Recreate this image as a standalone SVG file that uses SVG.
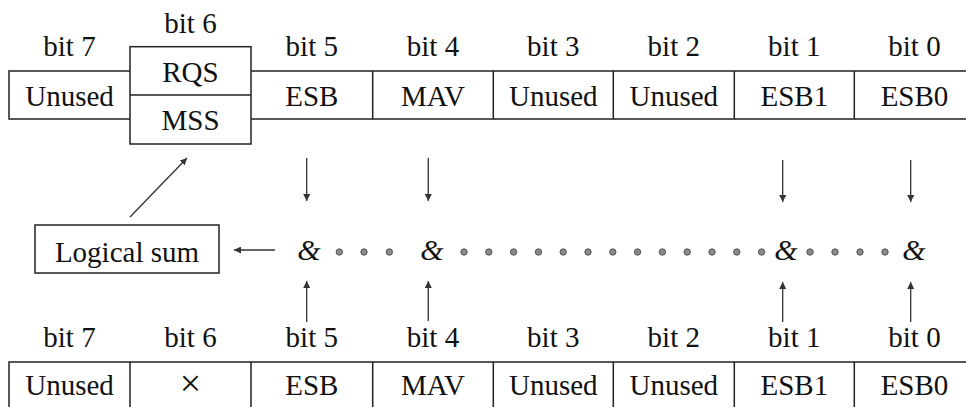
<svg xmlns="http://www.w3.org/2000/svg" width="966" height="407" viewBox="0 0 966 407">
  <defs>
    <style>
      .ln { stroke: #222; stroke-width: 1.5; fill: none; }
      .box { stroke: #222; stroke-width: 1.5; fill: #fff; }
      .cell, .lbl { font-family: "Liberation Serif", "Times New Roman", serif; font-size: 29px; fill: #111; text-anchor: middle; }
      .times { font-size: 38px; }
      .amp { font-family: "Liberation Serif", "Times New Roman", serif; font-style: italic; font-size: 30px; fill: #111; text-anchor: middle; }
      .arr { stroke: #333; stroke-width: 1.3; fill: none; marker-end: url(#head); }
      .dot { fill: #8a8a8a; stroke: #555; stroke-width: 1; }
    </style>
    <marker id="head" viewBox="0 0 10 10" refX="10" refY="5" markerWidth="7" markerHeight="7" markerUnits="userSpaceOnUse" orient="auto">
      <path d="M0,0 L10,5 L0,10 z" fill="#333"/>
    </marker>
  </defs>

  <!-- Status byte register -->
  <g id="status-register">
    <path class="ln" d="M130,71 H9 V119 H130 M251,71 H975 M251,119 H975"/>
    <path class="ln" d="M372.7,71 V119 M493.3,71 V119 M613.3,71 V119 M734.3,71 V119 M854.3,71 V119"/>
    <text class="lbl" x="69.5" y="56">bit 7</text>
    <text class="lbl" x="311.8" y="56">bit 5</text>
    <text class="lbl" x="433" y="56">bit 4</text>
    <text class="lbl" x="553.3" y="56">bit 3</text>
    <text class="lbl" x="673.8" y="56">bit 2</text>
    <text class="lbl" x="794.3" y="56">bit 1</text>
    <text class="lbl" x="914.5" y="56">bit 0</text>
    <text class="cell" x="69.5" y="106">Unused</text>
    <text class="cell" x="311.8" y="106">ESB</text>
    <text class="cell" x="433" y="106">MAV</text>
    <text class="cell" x="553.3" y="106">Unused</text>
    <text class="cell" x="673.8" y="106">Unused</text>
    <text class="cell" x="794.3" y="106">ESB1</text>
    <text class="cell" x="914.5" y="106">ESB0</text>
  </g>

  <!-- bit 6: RQS / MSS -->
  <g id="bit6-rqs-mss">
    <rect class="box" x="130" y="46.7" width="121" height="97.3"/>
    <line class="ln" x1="130" y1="95" x2="251" y2="95"/>
    <text class="lbl" x="190.5" y="33">bit 6</text>
    <text class="cell" x="190.5" y="82">RQS</text>
    <text class="cell" x="190.5" y="130">MSS</text>
  </g>

  <!-- Logical sum -->
  <g id="logical-sum">
    <rect class="box" x="35" y="225" width="184" height="48"/>
    <text class="cell" x="127" y="262">Logical sum</text>
  </g>

  <!-- AND chain -->
  <g id="and-chain">
    <text class="amp" x="309" y="260">&amp;</text>
    <text class="amp" x="432" y="260">&amp;</text>
    <text class="amp" x="786" y="260">&amp;</text>
    <text class="amp" x="914" y="260">&amp;</text>
    <g>
      <circle class="dot" cx="339.3" cy="252" r="3.2"/>
      <circle class="dot" cx="364" cy="252" r="3.2"/>
      <circle class="dot" cx="389.3" cy="252" r="3.2"/>
      <circle class="dot" cx="464" cy="252" r="3.2"/>
      <circle class="dot" cx="488.8" cy="252" r="3.2"/>
      <circle class="dot" cx="513.6" cy="252" r="3.2"/>
      <circle class="dot" cx="538.4" cy="252" r="3.2"/>
      <circle class="dot" cx="563.2" cy="252" r="3.2"/>
      <circle class="dot" cx="588" cy="252" r="3.2"/>
      <circle class="dot" cx="612.8" cy="252" r="3.2"/>
      <circle class="dot" cx="637.6" cy="252" r="3.2"/>
      <circle class="dot" cx="662.4" cy="252" r="3.2"/>
      <circle class="dot" cx="687.2" cy="252" r="3.2"/>
      <circle class="dot" cx="712" cy="252" r="3.2"/>
      <circle class="dot" cx="736.8" cy="252" r="3.2"/>
      <circle class="dot" cx="761.6" cy="252" r="3.2"/>
      <circle class="dot" cx="810" cy="252" r="3.2"/>
      <circle class="dot" cx="835" cy="252" r="3.2"/>
      <circle class="dot" cx="860" cy="252" r="3.2"/>
      <circle class="dot" cx="885" cy="252" r="3.2"/>
    </g>
  </g>

  <!-- Service request enable register -->
  <g id="enable-register">
    <path class="ln" d="M9,420 V362 H975"/>
    <path class="ln" d="M130,362 V420 M251,362 V420 M372.7,362 V420 M493.3,362 V420 M613.3,362 V420 M734.3,362 V420 M854.3,362 V420"/>
    <text class="lbl" x="69.5" y="347">bit 7</text>
    <text class="lbl" x="190.5" y="347">bit 6</text>
    <text class="lbl" x="311.8" y="347">bit 5</text>
    <text class="lbl" x="433" y="347">bit 4</text>
    <text class="lbl" x="553.3" y="347">bit 3</text>
    <text class="lbl" x="673.8" y="347">bit 2</text>
    <text class="lbl" x="794.3" y="347">bit 1</text>
    <text class="lbl" x="914.5" y="347">bit 0</text>
    <text class="cell" x="69.5" y="395">Unused</text>
    <text class="cell times" x="190.5" y="396">×</text>
    <text class="cell" x="311.8" y="395">ESB</text>
    <text class="cell" x="433" y="395">MAV</text>
    <text class="cell" x="553.3" y="395">Unused</text>
    <text class="cell" x="673.8" y="395">Unused</text>
    <text class="cell" x="794.3" y="395">ESB1</text>
    <text class="cell" x="914.5" y="395">ESB0</text>
  </g>

  <!-- Connectors -->
  <g id="connectors">
    <line class="arr" x1="306.7" y1="158" x2="306.7" y2="201"/>
    <line class="arr" x1="428.3" y1="158" x2="428.3" y2="201"/>
    <line class="arr" x1="782.7" y1="160" x2="782.7" y2="202"/>
    <line class="arr" x1="910.7" y1="160" x2="910.7" y2="202"/>
    <line class="arr" x1="306.7" y1="322" x2="306.7" y2="281"/>
    <line class="arr" x1="428.3" y1="321" x2="428.3" y2="281"/>
    <line class="arr" x1="782.7" y1="322" x2="782.7" y2="282"/>
    <line class="arr" x1="910.7" y1="322" x2="910.7" y2="282"/>
    <line class="arr" x1="275" y1="250" x2="234" y2="250"/>
    <line class="arr" x1="130" y1="217" x2="187" y2="158"/>
  </g>
</svg>
